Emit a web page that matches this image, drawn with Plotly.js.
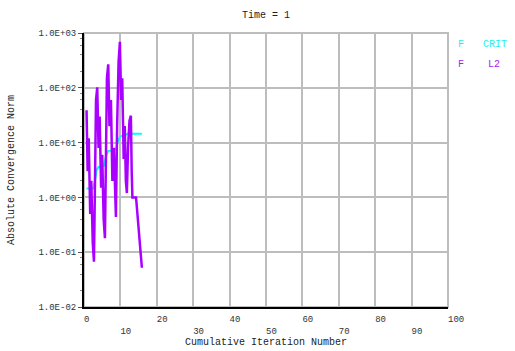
<!DOCTYPE html>
<html>
<head>
<meta charset="utf-8">
<script src="https://cdn.plot.ly/plotly-3.0.1.min.js"></script>
<style>html,body{margin:0;padding:0;background:#fff;}#chart{width:515px;height:351px;}</style>
</head>
<body>
<div id="chart"></div>
<script>
// Series: F L2 (purple) — cumulative iteration vs absolute convergence norm
var l2Iter = [0.7, 1.0, 1.3, 1.7, 2.0, 2.4, 2.74, 3.0, 3.3, 3.64, 4.0, 4.3, 4.7, 5.0, 5.4, 5.75,
              6.0, 6.3, 6.66, 7.0, 7.4, 7.8, 8.2, 8.5, 8.77, 9.1, 9.5, 9.86, 10.2, 10.5, 10.9,
              11.2, 11.5, 11.78, 12.1, 12.5, 12.88, 13.1, 13.3, 14.3, 15.9];
var l2Norm = [39, 3, 12, 0.5, 2, 0.15, 0.067, 5, 60, 102, 8, 30, 1.5, 6, 0.4, 0.18,
              10, 150, 268, 20, 60, 2, 8, 0.8, 0.44, 20, 300, 693, 60, 150, 5,
              20, 2, 1.2, 8, 25, 31, 3, 1.0, 1.0, 0.052];
// Series: F CRIT (cyan)
var critIter = [0.7, 2.5, 3.0, 3.5, 4.0, 5.5, 6.0, 6.6, 7.5, 8.8, 9.2, 9.9, 11.0, 12.0, 15.9];
var critNorm = [1.45, 1.45, 2.0, 3.2, 3.6, 3.8, 5.5, 7.0, 7.2, 7.6, 10, 13, 13.5, 14.5, 14.5];

// Tick labels
var yTickVals = [0.01, 0.1, 1, 10, 100, 1000];
var yTickText = ["1.0E-02", "1.0E-01", "1.0E+00", "1.0E+01", "1.0E+02", "1.0E+03"];
var xTickVals = [0, 10, 20, 30, 40, 50, 60, 70, 80, 90, 100];
var xTickLabels = ["0", "10", "20", "30", "40", "50", "60", "70", "80", "90", "100"];
var minorMantissas = [2, 4, 6, 8];

var NB = "\u00a0";
var xTickText = xTickLabels.map(function (s, i) {
  var padded = NB.repeat(s.length) + s;
  return (i % 2 === 1) ? "<br>" + padded : padded;
});
var minorVals = [];
for (var d = -2; d < 3; d++) {
  minorMantissas.forEach(function (m) { minorVals.push(m * Math.pow(10, d)); });
}

var mono = "Courier New, Liberation Mono, DejaVu Sans Mono, monospace";
var gridCol = "#bdbdbd";

var traces = [
  { x: critIter, y: critNorm, name: "F   CRIT", mode: "lines", type: "scatter",
    line: { color: "#00ffff", width: 2 } },
  { x: l2Iter, y: l2Norm, name: "F    L2", mode: "lines", type: "scatter",
    line: { color: "#aa00ff", width: 2.5 } }
];

var layout = {
  width: 515, height: 351,
  margin: { l: 84, r: 67, t: 33, b: 44 },
  paper_bgcolor: "#ffffff", plot_bgcolor: "#ffffff",
  showlegend: false,
  font: { family: mono, size: 9, color: "#333333" },
  title: { text: "Time = 1", font: { family: mono, size: 10, color: "#222222" },
           x: 0.5, xref: "paper", y: 1 - 14 / 351, yref: "container", yanchor: "middle" },
  xaxis: {
    range: [0, 100], tickmode: "array", tickvals: xTickVals, ticktext: xTickText,
    ticks: "", showgrid: true, gridcolor: gridCol, gridwidth: 2, ticklabelstandoff: 2,
    showline: true, linecolor: "#000000", linewidth: 2, zeroline: false,
    tickfont: { family: mono, size: 9, color: "#333333" },
    title: { text: "Cumulative Iteration Number", font: { family: mono, size: 10, color: "#222222" }, standoff: 2 }
  },
  yaxis: {
    type: "log", range: [-2, 3], tickmode: "array", tickvals: yTickVals, ticktext: yTickText,
    ticks: "outside", ticklen: 4, tickcolor: "#555555", tickwidth: 1,
    minor: { tickmode: "array", tickvals: minorVals, ticks: "outside", ticklen: 2, tickcolor: "#888888", showgrid: false },
    showgrid: true, gridcolor: gridCol, gridwidth: 2,
    showline: true, linecolor: "#000000", linewidth: 2, zeroline: false,
    tickfont: { family: mono, size: 9, color: "#333333" },
    title: { text: "Absolute Convergence Norm", font: { family: mono, size: 10, color: "#222222" }, standoff: 22 }
  },
  shapes: [
    { type: "rect", xref: "paper", yref: "paper", x0: 0, x1: 1, y0: 0, y1: 1,
      line: { color: gridCol, width: 2 }, layer: "below" }
  ],
  annotations: [
    { text: "F", showarrow: false, font: { family: mono, size: 10, color: "#22eeee" } },
    { text: "CRIT", showarrow: false, font: { family: mono, size: 10, color: "#22eeee" } },
    { text: "F", showarrow: false, font: { family: mono, size: 10, color: "#aa22ee" } },
    { text: "L2", showarrow: false, font: { family: mono, size: 10, color: "#aa22ee" } }
  ]
};

// place legend-like annotations in pixel terms converted to paper coords
var pw = 515 - 84 - 67, ph = 351 - 33 - 44;
function px(xp) { return (xp - 84) / pw; }
function py(yp) { return 1 - (yp - 33) / ph; }
var legPos = [[456, 45], [481, 45], [456, 64], [486, 64]];
layout.annotations.forEach(function (a, i) {
  a.xref = "paper"; a.yref = "paper";
  a.x = px(legPos[i][0]); a.y = py(legPos[i][1]);
  a.xanchor = "left"; a.yanchor = "middle";
});

Plotly.newPlot("chart", traces, layout, { displayModeBar: false, staticPlot: true });
</script>
</body>
</html>
